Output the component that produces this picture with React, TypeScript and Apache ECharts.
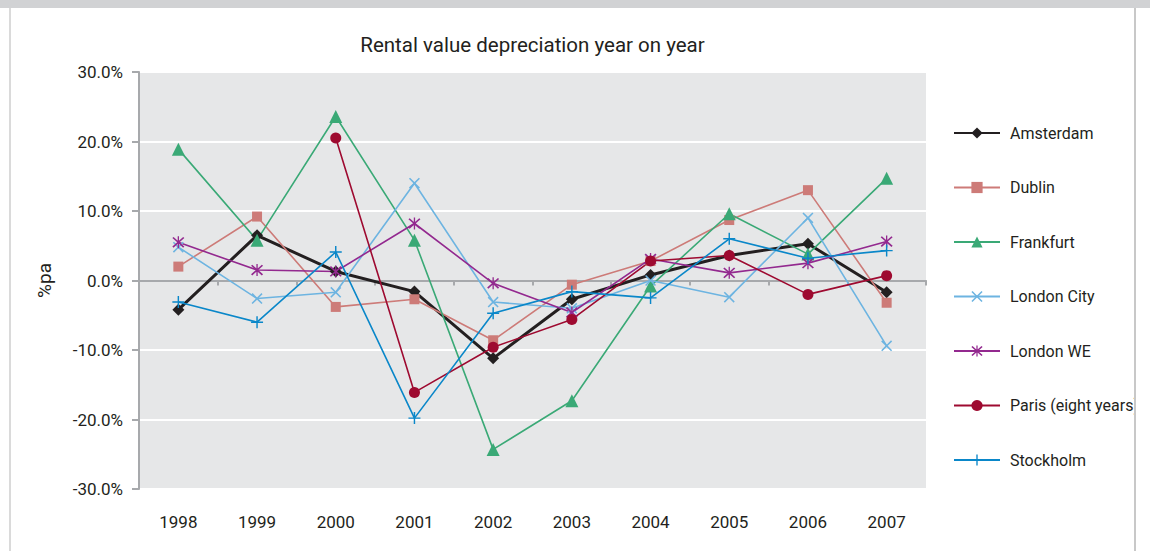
import { useEffect, useRef } from "react";
import * as echarts from "echarts";

// years on the category axis
const years = ["1998", "1999", "2000", "2001", "2002", "2003", "2004", "2005", "2006", "2007"];

// year-on-year change, %pa
const amsterdam = [-4.2, 6.5, 1.3, -1.6, -11.2, -2.7, 0.8, 3.6, 5.3, -1.7];
const dublin = [2.0, 9.2, -3.8, -2.7, -8.6, -0.6, 2.8, 8.7, 13.0, -3.2];
const frankfurt = [18.9, 5.8, 23.6, 5.8, -24.3, -17.3, -0.8, 9.6, 3.8, 14.7];
const londonCity = [4.8, -2.6, -1.7, 14.0, -3.1, -4.0, 0.0, -2.4, 9.0, -9.4];
const londonWE = [5.5, 1.5, 1.3, 8.2, -0.4, -4.6, 3.1, 1.1, 2.5, 5.6];
const paris = [null, null, 20.5, -16.1, -9.6, -5.6, 2.8, 3.6, -2.0, 0.7];
const stockholm = [-3.1, -6.0, 4.1, -19.8, -4.7, -1.6, -2.5, 6.0, 3.2, 4.3];

const FONT = "Roboto";

// stroke-like markers drawn as thin filled shapes
const crossPath =
  "path://M0,1 L1,0 L5,4 L9,0 L10,1 L6,5 L10,9 L9,10 L5,6 L1,10 L0,9 L4,5 Z";
const starPath =
  "path://M0,1.6 L1,0.6 L5,4.6 L9,0.6 L10,1.6 L6,5.6 L10,9.6 L9,10.6 L5,6.6 L1,10.6 L0,9.6 L4,5.6 Z M4.45,0 L5.55,0 L5.55,11.2 L4.45,11.2 Z";
const plusPath =
  "path://M4.4,0 L5.6,0 L5.6,4.4 L10,4.4 L10,5.6 L5.6,5.6 L5.6,10 L4.4,10 L4.4,5.6 L0,5.6 L0,4.4 L4.4,4.4 Z";

export default function App() {
  const chartRef = useRef<HTMLDivElement>(null);

  useEffect(() => {
    if (!chartRef.current) return;
    const chart = echarts.init(chartRef.current, undefined, { renderer: "svg" });

    const line = (
      name: string,
      data: (number | null)[],
      color: string,
      symbol: string,
      symbolSize: number,
      width = 1.6
    ) => ({
      name,
      type: "line",
      data,
      symbol,
      symbolSize,
      showSymbol: true,
      connectNulls: false,
      lineStyle: { color, width },
      itemStyle: { color, borderWidth: 0 },
      emphasis: { disabled: true },
    });

    const option = {
      animation: false,
      backgroundColor: "#ffffff",
      textStyle: { fontFamily: FONT },
      graphic: [
        {
          type: "text",
          x: 521.5,
          y: 37,
          style: {
            text: "Rental value depreciation year on year",
            fill: "#231f20",
            font: `20.5px '${FONT}'`,
            textAlign: "center",
            textVerticalAlign: "middle",
          },
        },
      ],
      grid: {
        left: 128,
        top: 64,
        width: 787,
        height: 417,
        show: true,
        backgroundColor: "#e6e7e8",
        borderWidth: 0,
      },
      legend: {
        orient: "vertical",
        left: 942,
        top: 115,
        padding: 0,
        itemWidth: 46,
        itemHeight: 14,
        itemGap: 34.5,
        selectedMode: false,
        textStyle: {
          fontFamily: FONT,
          fontSize: 16,
          lineHeight: 20,
          color: "#231f20",
          padding: [0, 0, 0, 5],
        },
        data: [
          "Amsterdam",
          "Dublin",
          "Frankfurt",
          "London City",
          "London WE",
          "Paris (eight years)",
          "Stockholm",
        ],
      },
      xAxis: {
        type: "category",
        data: years,
        boundaryGap: true,
        axisLine: { lineStyle: { color: "#a7a9ac", width: 2 } },
        axisTick: { show: true, length: 5, lineStyle: { color: "#a7a9ac", width: 2 } },
        axisLabel: { fontFamily: FONT, fontSize: 17, color: "#231f20", margin: 24 },
        splitLine: { show: false },
      },
      yAxis: {
        type: "value",
        min: -30,
        max: 30,
        interval: 10,
        name: "%pa",
        nameLocation: "middle",
        nameGap: 85,
        nameTextStyle: { fontFamily: FONT, fontSize: 19, color: "#231f20" },
        axisLine: { show: true, lineStyle: { color: "#a7a9ac", width: 2 } },
        axisTick: { show: true, length: 7, lineStyle: { color: "#a7a9ac", width: 2 } },
        axisLabel: {
          fontFamily: FONT,
          fontSize: 17,
          color: "#231f20",
          margin: 16,
          formatter: (v: number) => v.toFixed(1) + "%",
        },
        splitLine: { show: true, lineStyle: { color: "#ffffff", width: 2 } },
      },
      series: [
        line("Amsterdam", amsterdam, "#231f20", "diamond", 12, 3),
        line("Dublin", dublin, "#cd7b78", "rect", 10),
        line("Frankfurt", frankfurt, "#3aa976", "triangle", 13),
        line("London City", londonCity, "#6db4e1", crossPath, 11),
        line("London WE", londonWE, "#93298f", starPath, 12),
        line("Paris (eight years)", paris, "#9e0a30", "circle", 11),
        line("Stockholm", stockholm, "#0a87c9", plusPath, 12),
      ],
    };

    chart.setOption(option);
    return () => {
      chart.dispose();
    };
  }, []);

  return (
    <div
      style={{
        position: "fixed",
        left: 0,
        top: 0,
        width: 1150,
        height: 551,
        background: "#ffffff",
        overflow: "hidden",
      }}
    >
      <div style={{ position: "absolute", left: 0, top: 0, width: 1150, height: 8, background: "#d1d2d4" }} />
      <div
        style={{
          position: "absolute",
          left: 9,
          top: 8,
          width: 1127,
          height: 543,
          boxSizing: "border-box",
          borderLeft: "2px solid #dadada",
          borderRight: "2px solid #c8c8c8",
          overflow: "hidden",
        }}
      >
        <div ref={chartRef} style={{ width: 1123, height: 543 }} />
      </div>
    </div>
  );
}
